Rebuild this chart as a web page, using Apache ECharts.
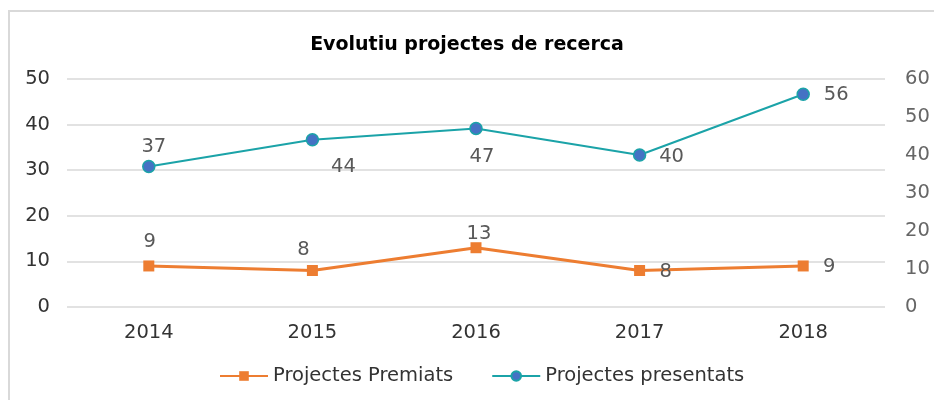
<!DOCTYPE html>
<html>
<head>
<meta charset="utf-8">
<script src="https://cdn.jsdelivr.net/npm/echarts@6/dist/echarts.min.js"></script>
<style>
html,body{margin:0;padding:0;background:#fff;overflow:hidden;width:934px;height:400px;}
#hline{position:absolute;left:8px;top:10px;width:940px;height:2px;background:#d9d9d9;}
#vline{position:absolute;left:8px;top:10px;width:2px;height:400px;background:#d9d9d9;}
#chart{position:absolute;left:0;top:0;width:934px;height:400px;}
</style>
</head>
<body>
<div id="hline"></div>
<div id="vline"></div>
<div id="chart"></div>
<script>
const categories = ['2014', '2015', '2016', '2017', '2018'];
const premiats = [9, 8, 13, 8, 9];
const presentats = [37, 44, 47, 40, 56];
const leftTicks = {min: 0, max: 50, interval: 10};
const rightTicks = {min: 0, max: 60, interval: 10};

// label offsets relative to each point (style only)
const premiatsOffsets = [[1,-24],[-9,-21],[3,-14],[26,1],[26,1]];
const presentatsOffsets = [[5,-19],[31,27],[6,29],[32,2],[33,1]];

const FONT = 'DejaVu Sans';
const FS = 19.5;
const labelStyle = {show: true, position: 'inside', color: '#595959', fontSize: FS, fontFamily: FONT};

const chart = echarts.init(document.getElementById('chart'), null, {renderer: 'canvas'});
chart.setOption({
  backgroundColor: 'transparent',
  animation: false,
  title: {
    text: 'Evolutiu projectes de recerca',
    left: 'center',
    top: 31,
    textStyle: {fontFamily: FONT, fontSize: 19, fontWeight: 'bold', color: '#000'}
  },
  legend: {
    left: 219,
    top: 366,
    padding: 0,
    itemWidth: 48,
    itemHeight: 12,
    itemGap: 38,
    textStyle: {fontFamily: FONT, fontSize: FS, color: '#333'},
    data: ['Projectes Premiats', 'Projectes presentats']
  },
  grid: {left: 67, right: 49, top: 79, bottom: 93, containLabel: false},
  xAxis: {
    type: 'category',
    data: categories,
    boundaryGap: true,
    axisLine: {show: false},
    axisTick: {show: false},
    axisLabel: {fontFamily: FONT, fontSize: FS, color: '#333', margin: 16}
  },
  yAxis: [
    {
      type: 'value', position: 'left',
      min: leftTicks.min, max: leftTicks.max, interval: leftTicks.interval,
      axisLine: {show: false}, axisTick: {show: false},
      axisLabel: {fontFamily: FONT, fontSize: FS, color: '#333', margin: 17},
      splitLine: {lineStyle: {color: '#d9d9d9', width: 1.5}}
    },
    {
      type: 'value', position: 'right',
      min: rightTicks.min, max: rightTicks.max, interval: rightTicks.interval,
      axisLine: {show: false}, axisTick: {show: false},
      axisLabel: {fontFamily: FONT, fontSize: FS, color: '#666', margin: 20},
      splitLine: {show: false}
    }
  ],
  series: [
    {
      name: 'Projectes Premiats',
      type: 'line',
      yAxisIndex: 0,
      symbol: 'rect',
      symbolSize: 11,
      color: '#ED7D31',
      lineStyle: {color: '#ED7D31', width: 3},
      itemStyle: {color: '#ED7D31'},
      data: premiats.map((v, i) => ({value: v, label: Object.assign({}, labelStyle, {offset: premiatsOffsets[i]})})),
      z: 3
    },
    {
      name: 'Projectes presentats',
      type: 'line',
      yAxisIndex: 1,
      symbol: 'circle',
      symbolSize: 12,
      color: '#1BA3A8',
      lineStyle: {color: '#1BA3A8', width: 2},
      itemStyle: {color: '#4472C4', borderColor: '#1BA3A8', borderWidth: 1.5},
      data: presentats.map((v, i) => ({value: v, label: Object.assign({}, labelStyle, {offset: presentatsOffsets[i]})})),
      z: 3
    }
  ]
});
</script>
</body>
</html>
